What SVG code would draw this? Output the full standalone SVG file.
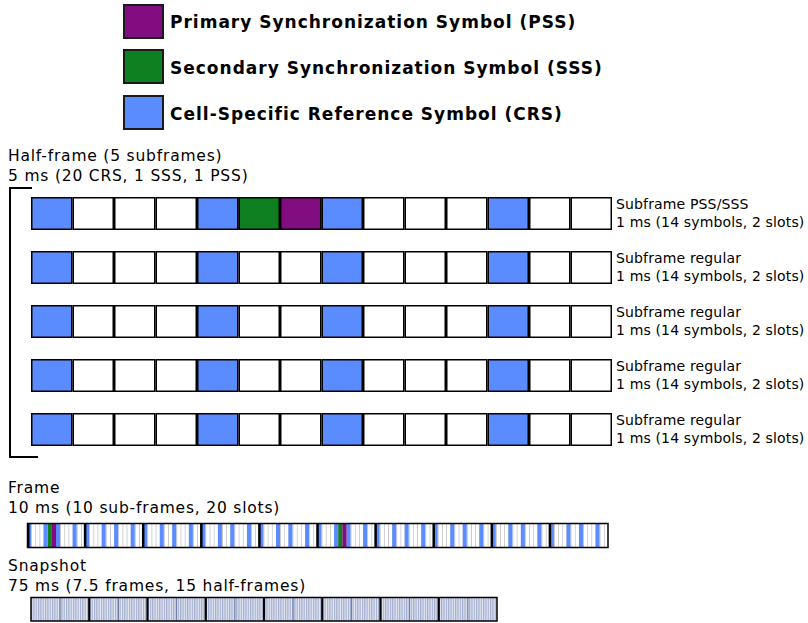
<svg xmlns="http://www.w3.org/2000/svg" xmlns:xlink="http://www.w3.org/1999/xlink" width="808" height="623" viewBox="0 0 808 623">
<style>
  text { font-family: "DejaVu Sans", Verdana, sans-serif; fill: #000; }
  .lg { font-size: 17px; font-weight: bold; letter-spacing: 1px; }
  .lb { font-size: 15.5px; letter-spacing: 0.8px; }
  .rl { font-size: 14px; letter-spacing: 0.15px; }
  .cell { stroke: #000; stroke-width: 1.5; fill: #fff; }
  .crs { fill: #5a8cff; }
  .sss { fill: #0e8022; }
  .pss { fill: #820d80; }
  .key { stroke: #1a1a1a; stroke-width: 2; }
  .bracket { fill: none; stroke: #000; stroke-width: 2; }
</style>
<defs>
  <pattern id="symlines" patternUnits="userSpaceOnUse" x="0" y="0" width="4.15" height="30">
    <rect x="0" y="0" width="4.15" height="30" fill="#fff"/>
    <rect x="0" y="0" width="0.8" height="30" fill="#c6c6c6"/>
  </pattern>
  <pattern id="snapstripes" patternUnits="userSpaceOnUse" x="31" y="0" width="2.33" height="30">
    <rect x="0" y="0" width="2.33" height="30" fill="#e2e6f2"/>
    <rect x="0" y="0" width="1.2" height="30" fill="#a4b0d0"/>
  </pattern>
  <g id="regrow">
    <rect class="cell crs" x="31.75" y="0" width="40" height="31.5"/>
    <rect class="cell" x="73.25" y="0" width="40" height="31.5"/>
    <rect class="cell" x="114.75" y="0" width="40" height="31.5"/>
    <rect class="cell" x="156.25" y="0" width="40" height="31.5"/>
    <rect class="cell crs" x="197.75" y="0" width="40" height="31.5"/>
    <rect class="cell" x="239.25" y="0" width="40" height="31.5"/>
    <rect class="cell" x="280.75" y="0" width="40" height="31.5"/>
    <rect class="cell crs" x="322.25" y="0" width="40" height="31.5"/>
    <rect class="cell" x="363.75" y="0" width="40" height="31.5"/>
    <rect class="cell" x="405.25" y="0" width="40" height="31.5"/>
    <rect class="cell" x="446.75" y="0" width="40" height="31.5"/>
    <rect class="cell crs" x="488.25" y="0" width="40" height="31.5"/>
    <rect class="cell" x="529.75" y="0" width="40" height="31.5"/>
    <rect class="cell" x="571.25" y="0" width="40" height="31.5"/>
  </g>
  <g id="sf">
    <rect x="0" y="0" width="58.1" height="24" fill="url(#symlines)"/>
    <rect class="crs" x="0" y="0" width="4" height="24"/>
    <rect class="crs" x="16.6" y="0" width="4" height="24"/>
    <rect class="crs" x="29.05" y="0" width="4" height="24"/>
    <rect class="crs" x="45.65" y="0" width="4" height="24"/>
  </g>
  <g id="sfsync">
    <use xlink:href="#sf"/>
    <rect class="sss" x="20.75" y="0" width="4.15" height="24"/>
    <rect class="pss" x="24.9" y="0" width="4.15" height="24"/>
  </g>
</defs>

<g id="legend">
  <g id="legend-pss">
    <rect class="key pss" x="124" y="5" width="39" height="33"/>
    <text class="lg" x="170" y="28">Primary Synchronization Symbol (PSS)</text>
  </g>
  <g id="legend-sss">
    <rect class="key sss" x="124" y="50" width="39" height="33"/>
    <text class="lg" x="170" y="74">Secondary Synchronization Symbol (SSS)</text>
  </g>
  <g id="legend-crs">
    <rect class="key crs" x="124" y="96" width="39" height="33"/>
    <text class="lg" x="170" y="120">Cell-Specific Reference Symbol (CRS)</text>
  </g>
</g>

<g id="halfframe-label">
  <text class="lb" x="8" y="161">Half-frame (5 subframes)</text>
  <text class="lb" x="8" y="181">5 ms (20 CRS, 1 SSS, 1 PSS)</text>
</g>

<g id="connectors">
  <path class="bracket" d="M32,188 H10 V457 H38"/>
</g>

<g id="subframe-1">
  <use xlink:href="#regrow" y="197.75"/>
  <rect class="cell sss" x="239.25" y="197.75" width="40" height="31.5"/>
  <rect class="cell pss" x="280.75" y="197.75" width="40" height="31.5"/>
  <text class="rl" x="616" y="209">Subframe PSS/SSS</text>
  <text class="rl" x="616" y="227">1 ms (14 symbols, 2 slots)</text>
</g>
<g id="subframe-2">
  <use xlink:href="#regrow" y="251.75"/>
  <text class="rl" x="616" y="263">Subframe regular</text>
  <text class="rl" x="616" y="281">1 ms (14 symbols, 2 slots)</text>
</g>
<g id="subframe-3">
  <use xlink:href="#regrow" y="305.75"/>
  <text class="rl" x="616" y="317">Subframe regular</text>
  <text class="rl" x="616" y="335">1 ms (14 symbols, 2 slots)</text>
</g>
<g id="subframe-4">
  <use xlink:href="#regrow" y="359.75"/>
  <text class="rl" x="616" y="371">Subframe regular</text>
  <text class="rl" x="616" y="389">1 ms (14 symbols, 2 slots)</text>
</g>
<g id="subframe-5">
  <use xlink:href="#regrow" y="413.75"/>
  <text class="rl" x="616" y="425">Subframe regular</text>
  <text class="rl" x="616" y="443">1 ms (14 symbols, 2 slots)</text>
</g>

<g id="frame">
  <text class="lb" x="8" y="493">Frame</text>
  <text class="lb" x="8" y="513">10 ms (10 sub-frames, 20 slots)</text>
  <use xlink:href="#sfsync" x="27" y="523.5"/>
  <use xlink:href="#sf" x="85.1" y="523.5"/>
  <use xlink:href="#sf" x="143.2" y="523.5"/>
  <use xlink:href="#sf" x="201.3" y="523.5"/>
  <use xlink:href="#sf" x="259.4" y="523.5"/>
  <use xlink:href="#sfsync" x="317.5" y="523.5"/>
  <use xlink:href="#sf" x="375.6" y="523.5"/>
  <use xlink:href="#sf" x="433.7" y="523.5"/>
  <use xlink:href="#sf" x="491.8" y="523.5"/>
  <use xlink:href="#sf" x="549.9" y="523.5"/>
  <g stroke="#000" stroke-width="2.5">
    <line x1="85.1" y1="523.5" x2="85.1" y2="547.5"/>
    <line x1="143.2" y1="523.5" x2="143.2" y2="547.5"/>
    <line x1="201.3" y1="523.5" x2="201.3" y2="547.5"/>
    <line x1="259.4" y1="523.5" x2="259.4" y2="547.5"/>
    <line x1="317.5" y1="523.5" x2="317.5" y2="547.5"/>
    <line x1="375.6" y1="523.5" x2="375.6" y2="547.5"/>
    <line x1="433.7" y1="523.5" x2="433.7" y2="547.5"/>
    <line x1="491.8" y1="523.5" x2="491.8" y2="547.5"/>
    <line x1="549.9" y1="523.5" x2="549.9" y2="547.5"/>
  </g>
  <rect x="27.5" y="523.5" width="580.5" height="24" fill="none" stroke="#000" stroke-width="1.5"/>
  <line x1="28.5" y1="523.5" x2="28.5" y2="547.5" stroke="#000" stroke-width="2"/>
</g>

<g id="snapshot">
  <text class="lb" x="8" y="571">Snapshot</text>
  <text class="lb" x="8" y="591">75 ms (7.5 frames, 15 half-frames)</text>
  <rect x="31" y="597.5" width="466" height="23.5" fill="url(#snapstripes)"/>
  <g stroke="#6a7898" stroke-width="1">
    <line x1="60.1" y1="597.5" x2="60.1" y2="621"/>
    <line x1="118.4" y1="597.5" x2="118.4" y2="621"/>
    <line x1="176.6" y1="597.5" x2="176.6" y2="621"/>
    <line x1="234.9" y1="597.5" x2="234.9" y2="621"/>
    <line x1="293.1" y1="597.5" x2="293.1" y2="621"/>
    <line x1="351.4" y1="597.5" x2="351.4" y2="621"/>
    <line x1="409.6" y1="597.5" x2="409.6" y2="621"/>
    <line x1="467.9" y1="597.5" x2="467.9" y2="621"/>
  </g>
  <g stroke="#000" stroke-width="2.2">
    <line x1="89.25" y1="597.5" x2="89.25" y2="621"/>
    <line x1="147.5" y1="597.5" x2="147.5" y2="621"/>
    <line x1="205.75" y1="597.5" x2="205.75" y2="621"/>
    <line x1="264" y1="597.5" x2="264" y2="621"/>
    <line x1="322.25" y1="597.5" x2="322.25" y2="621"/>
    <line x1="380.5" y1="597.5" x2="380.5" y2="621"/>
    <line x1="438.75" y1="597.5" x2="438.75" y2="621"/>
  </g>
  <rect x="31" y="597.5" width="466" height="23.5" fill="none" stroke="#000" stroke-width="1.5"/>
</g>
</svg>
